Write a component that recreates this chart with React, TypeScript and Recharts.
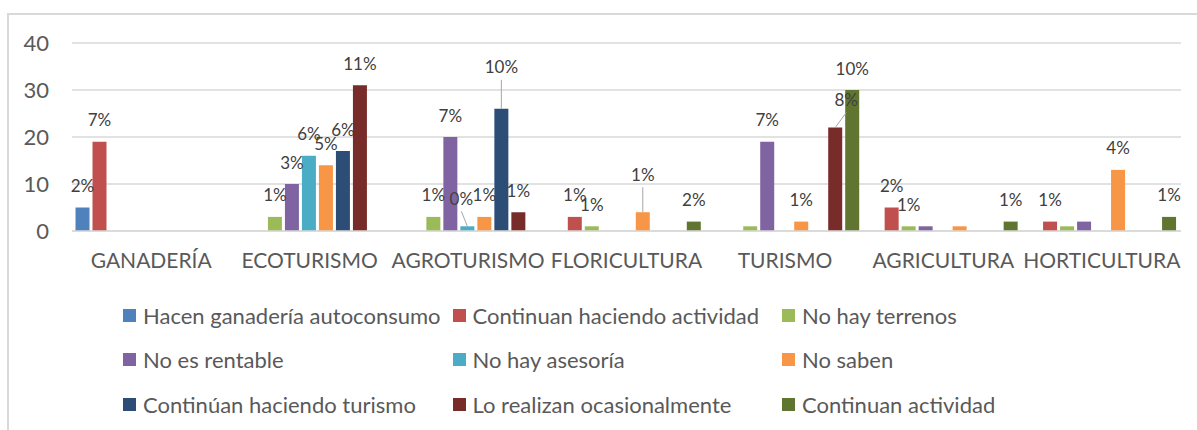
import { BarChart, Bar, XAxis, YAxis, CartesianGrid, LabelList } from 'recharts'

const categories = ['GANADERÍA', 'ECOTURISMO', 'AGROTURISMO', 'FLORICULTURA', 'TURISMO', 'AGRICULTURA', 'HORTICULTURA']
const yTicks = [0, 10, 20, 30, 40]

const seriesNames = [
    'Hacen ganadería autoconsumo',
    'Continuan haciendo actividad',
    'No hay terrenos',
    'No es rentable',
    'No hay asesoría',
    'No saben',
    'Continúan haciendo turismo',
    'Lo realizan ocasionalmente',
    'Continuan actividad',
]

const hacenGanaderia = [5, 0, 0, 0, 0, 0, 0]
const continuanHaciendo = [19, 0, 0, 3, 0, 5, 2]
const noHayTerrenos = [0, 3, 3, 1, 1, 1, 1]
const noEsRentable = [0, 10, 20, 0, 19, 1, 2]
const noHayAsesoria = [0, 16, 1, 0, 0, 0, 0]
const noSaben = [0, 14, 3, 4, 2, 1, 13]
const continuanTurismo = [0, 17, 26, 0, 0, 0, 0]
const ocasionalmente = [0, 31, 4, 0, 22, 0, 0]
const continuanActividad = [0, 0, 0, 2, 30, 2, 3]

// percentage labels shown on the bars ('' = no label)
const hacenGanaderiaPct = ['2%', '', '', '', '', '', '']
const continuanHaciendoPct = ['7%', '', '', '1%', '', '2%', '1%']
const noHayTerrenosPct = ['', '1%', '1%', '1%', '', '1%', '']
const noEsRentablePct = ['', '3%', '7%', '', '7%', '', '']
const noHayAsesoriaPct = ['', '6%', '0%', '', '', '', '']
const noSabenPct = ['', '5%', '1%', '1%', '1%', '', '4%']
const continuanTurismoPct = ['', '6%', '10%', '', '', '', '']
const ocasionalmentePct = ['', '11%', '1%', '', '8%', '', '']
const continuanActividadPct = ['', '', '', '2%', '10%', '1%', '1%']

const seriesValues = [hacenGanaderia, continuanHaciendo, noHayTerrenos, noEsRentable, noHayAsesoria, noSaben, continuanTurismo, ocasionalmente, continuanActividad]
const seriesLabels = [hacenGanaderiaPct, continuanHaciendoPct, noHayTerrenosPct, noEsRentablePct, noHayAsesoriaPct, noSabenPct, continuanTurismoPct, ocasionalmentePct, continuanActividadPct]
const colors = ['#4F81BD', '#C0504D', '#9BBB59', '#8064A2', '#4BACC6', '#F79646', '#2C4D75', '#772C2A', '#5F7530']

const data = categories.map((category, i) => {
    const row: Record<string, string | number> = { category }
    seriesValues.forEach((vals, k) => {
        row[`s${k}`] = vals[i]
        row[`l${k}`] = seriesLabels[k][i]
    })
    return row
})

// label nudges for the few labels Excel moved out of the way
const labelNudge: Record<string, { dx: number; dy: number; leader?: boolean }> = {
    '4-1': { dx: -6, dy: -6, leader: true },
    '6-1': { dx: 0, dy: -20, leader: true },
    '5-2': { dx: 0, dy: -16, leader: true },
    '7-2': { dx: 11, dy: -6, leader: true },
    '2-3': { dx: 6, dy: 9 },
    '7-4': { dx: -3, dy: 5 },
    '1-6': { dx: -4, dy: 6 },
    '8-6': { dx: 2, dy: 8 },
}

const FONT = 'Lato, "Open Sans", sans-serif'

function makeLabel(k: number) {
    return (props: any) => {
        const vb = props.viewBox || props
        const { x, y, width } = vb
        const value = props.value
        if (!value) return null
        const cx = x + width / 2
        const n = labelNudge[`${k}-${props.index}`] || { dx: 0, dy: 0 }
        const lx = cx + n.dx
        const ly = y - 22 + n.dy
        return (
            <g>
                {n.leader && <line x1={lx} y1={ly + 13} x2={cx} y2={y} stroke="#a6a6a6" strokeWidth={1} />}
                <text x={lx} y={ly} textAnchor="middle" dominantBaseline="central" fontSize={17} fontFamily={FONT} fill="#404040">
                    {value}
                </text>
            </g>
        )
    }
}

export default function App() {
    return (
        <div style={{ position: 'fixed', left: 0, top: 0, width: 1197, height: 430, background: '#fff', overflow: 'hidden' }}>
            <div style={{ position: 'absolute', left: 7, top: 13, width: 1190, height: 417, borderTop: '2px solid #d9d9d9', borderLeft: '2px solid #d9d9d9' }} />
            <BarChart
                width={1197}
                height={430}
                data={data}
                margin={{ top: 43, right: 16, bottom: 169, left: 0 }}
                barGap={3}
                barCategoryGap={3.5}
                style={{ position: 'absolute', left: 0, top: 0 }}
            >
                <CartesianGrid vertical={false} stroke="#d9d9d9" strokeWidth={1.5} />
                <XAxis
                    dataKey="category"
                    height={30}
                    axisLine={{ stroke: '#d9d9d9', strokeWidth: 1.5 }}
                    tickLine={false}
                    tickSize={0}
                    tickMargin={22}
                    interval={0}
                    tick={{ fill: '#595959', fontSize: 21, fontFamily: FONT }}
                />
                <YAxis
                    width={72}
                    domain={[0, 40]}
                    ticks={yTicks}
                    axisLine={false}
                    tickLine={false}
                    tickSize={0}
                    tickMargin={23}
                    tick={{ fill: '#595959', fontSize: 22, fontFamily: FONT }}
                />
                {seriesNames.map((name, k) => (
                    <Bar key={name} dataKey={`s${k}`} name={name} fill={colors[k]} isAnimationActive={false}>
                        <LabelList dataKey={`l${k}`} content={makeLabel(k)} />
                    </Bar>
                ))}
            </BarChart>
            {seriesNames.map((name, k) => {
                const col = k % 3
                const row = Math.floor(k / 3)
                const left = 123 + col * 329.5
                const cy = 315 + row * 44.5
                return (
                    <div key={name} style={{ position: 'absolute', left, top: cy - 15, height: 30, display: 'flex', alignItems: 'center', whiteSpace: 'nowrap' }}>
                        <div style={{ width: 13, height: 13, background: colors[k], marginRight: 7 }} />
                        <span style={{ fontFamily: FONT, fontSize: 22, color: '#595959' }}>{name}</span>
                    </div>
                )
            })}
        </div>
    )
}
